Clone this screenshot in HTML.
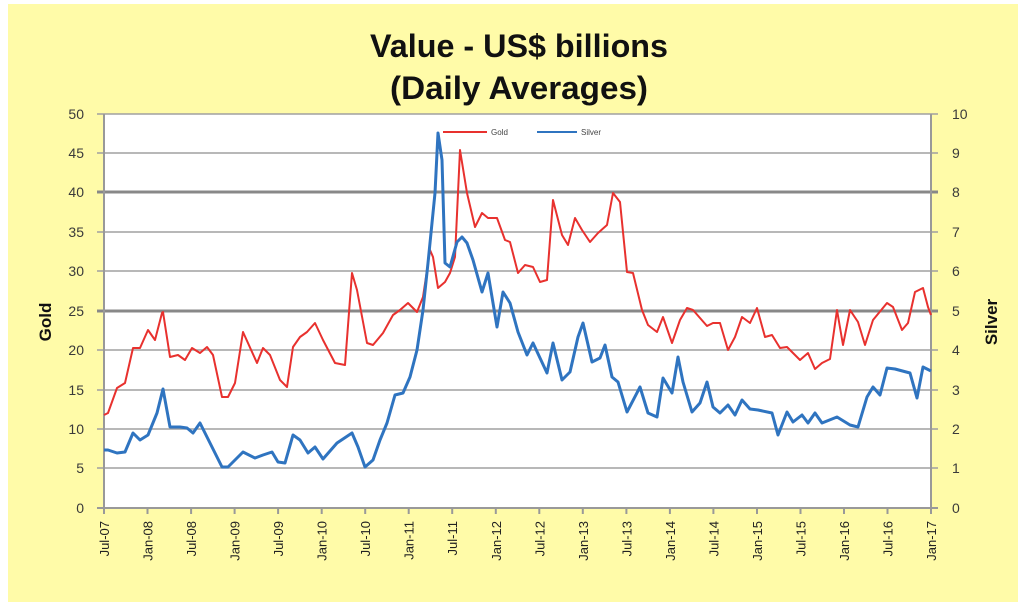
<!DOCTYPE html>
<html><head><meta charset="utf-8"><style>
html,body{margin:0;padding:0;background:#fff;}
svg{display:block;}
</style></head><body>
<svg width="1024" height="608" viewBox="0 0 1024 608" xmlns="http://www.w3.org/2000/svg" font-family="'Liberation Sans', sans-serif">
<rect x="0" y="0" width="1024" height="608" fill="#ffffff"/>
<rect x="8" y="4" width="1010" height="598" fill="#fffba8"/>
<rect x="104" y="114" width="827" height="394" fill="#ffffff"/>
<!-- title -->
<text x="519" y="57" text-anchor="middle" font-size="32" font-weight="bold" fill="#111" textLength="298" lengthAdjust="spacingAndGlyphs">Value - US$ billions</text>
<text x="519" y="99" text-anchor="middle" font-size="32" font-weight="bold" fill="#111" textLength="258" lengthAdjust="spacingAndGlyphs">(Daily Averages)</text>
<!-- gridlines -->
<g stroke="#a0a0a0" stroke-width="1.5">
<line x1="97" y1="114" x2="938" y2="114"/>
<line x1="97" y1="153" x2="938" y2="153"/>
<line x1="97" y1="232" x2="938" y2="232"/>
<line x1="97" y1="271" x2="938" y2="271"/>
<line x1="97" y1="350" x2="938" y2="350"/>
<line x1="97" y1="390" x2="938" y2="390"/>
<line x1="97" y1="429" x2="938" y2="429"/>
<line x1="97" y1="468" x2="938" y2="468"/>
</g>
<g stroke="#888" stroke-width="3">
<line x1="97" y1="192" x2="938" y2="192"/>
<line x1="97" y1="311" x2="938" y2="311"/>
</g>
<!-- axes -->
<g stroke="#999" stroke-width="2">
<line x1="104" y1="114" x2="104" y2="508"/>
<line x1="931" y1="114" x2="931" y2="508"/>
<line x1="97" y1="508" x2="938" y2="508"/>
</g>
<g stroke="#999" stroke-width="2">
<line x1="104.0" y1="508" x2="104.0" y2="514"/><line x1="147.5" y1="508" x2="147.5" y2="514"/><line x1="191.1" y1="508" x2="191.1" y2="514"/><line x1="234.6" y1="508" x2="234.6" y2="514"/><line x1="278.1" y1="508" x2="278.1" y2="514"/><line x1="321.7" y1="508" x2="321.7" y2="514"/><line x1="365.2" y1="508" x2="365.2" y2="514"/><line x1="408.7" y1="508" x2="408.7" y2="514"/><line x1="452.2" y1="508" x2="452.2" y2="514"/><line x1="495.8" y1="508" x2="495.8" y2="514"/><line x1="539.3" y1="508" x2="539.3" y2="514"/><line x1="582.8" y1="508" x2="582.8" y2="514"/><line x1="626.4" y1="508" x2="626.4" y2="514"/><line x1="669.9" y1="508" x2="669.9" y2="514"/><line x1="713.4" y1="508" x2="713.4" y2="514"/><line x1="757.0" y1="508" x2="757.0" y2="514"/><line x1="800.5" y1="508" x2="800.5" y2="514"/><line x1="844.0" y1="508" x2="844.0" y2="514"/><line x1="887.5" y1="508" x2="887.5" y2="514"/><line x1="931.0" y1="508" x2="931.0" y2="514"/>
</g>
<!-- left labels -->
<g font-size="14" fill="#3a3a3a" text-anchor="end">
<text x="84" y="119">50</text><text x="84" y="158">45</text><text x="84" y="197">40</text><text x="84" y="237">35</text><text x="84" y="276">30</text><text x="84" y="316">25</text><text x="84" y="355">20</text><text x="84" y="395">15</text><text x="84" y="434">10</text><text x="84" y="473">5</text><text x="84" y="513">0</text>
</g>
<g font-size="14" fill="#3a3a3a" text-anchor="start">
<text x="952" y="119">10</text><text x="952" y="158">9</text><text x="952" y="197">8</text><text x="952" y="237">7</text><text x="952" y="276">6</text><text x="952" y="316">5</text><text x="952" y="355">4</text><text x="952" y="395">3</text><text x="952" y="434">2</text><text x="952" y="473">1</text><text x="952" y="513">0</text>
</g>
<text transform="translate(51,322) rotate(-90)" text-anchor="middle" font-size="17" font-weight="bold" fill="#111">Gold</text>
<text transform="translate(997,322) rotate(-90)" text-anchor="middle" font-size="17" font-weight="bold" fill="#111">Silver</text>
<!-- x labels -->
<g font-size="13" fill="#222" text-anchor="end">
<text transform="translate(109,521) rotate(-90)">Jul-07</text>
<text transform="translate(152.5,521) rotate(-90)">Jan-08</text>
<text transform="translate(196.1,521) rotate(-90)">Jul-08</text>
<text transform="translate(239.6,521) rotate(-90)">Jan-09</text>
<text transform="translate(283.1,521) rotate(-90)">Jul-09</text>
<text transform="translate(326.7,521) rotate(-90)">Jan-10</text>
<text transform="translate(370.2,521) rotate(-90)">Jul-10</text>
<text transform="translate(413.7,521) rotate(-90)">Jan-11</text>
<text transform="translate(457.2,521) rotate(-90)">Jul-11</text>
<text transform="translate(500.8,521) rotate(-90)">Jan-12</text>
<text transform="translate(544.3,521) rotate(-90)">Jul-12</text>
<text transform="translate(587.8,521) rotate(-90)">Jan-13</text>
<text transform="translate(631.4,521) rotate(-90)">Jul-13</text>
<text transform="translate(674.9,521) rotate(-90)">Jan-14</text>
<text transform="translate(718.4,521) rotate(-90)">Jul-14</text>
<text transform="translate(762.0,521) rotate(-90)">Jan-15</text>
<text transform="translate(805.5,521) rotate(-90)">Jul-15</text>
<text transform="translate(849.0,521) rotate(-90)">Jan-16</text>
<text transform="translate(892.5,521) rotate(-90)">Jul-16</text>
<text transform="translate(936.0,521) rotate(-90)">Jan-17</text>
</g>
<!-- gold series -->
<polyline fill="none" stroke="#e8312e" stroke-width="2" stroke-linejoin="round" points="104,415 108,413 117,388 125,383 133,348 140,348 148,330 155,340 162,313 163,312 170,357 178,355 185,360 192,348 200,353 207,347 213,355 222,397 228,397 235,383 243,332 257,363 263,348 270,355 280,380 287,387 293,347 300,337 307,332 315,323 323,340 335,363 345,365 352,273 357,290 367,343 373,345 383,333 393,315 400,310 408,303 417,312 423,297 430,250 433,257 438,288 445,282 450,273 455,257 460,150 467,193 475,227 482,213 488,218 497,218 505,240 510,242 518,273 525,265 533,267 540,282 547,280 553,200 562,235 568,245 575,218 582,230 590,242 598,233 607,225 613,193 620,202 627,272 633,273 642,310 648,325 657,332 663,317 672,343 680,320 687,308 693,310 707,326 713,323 720,323 728,350 735,337 742,317 750,323 757,308 765,337 772,335 780,348 787,347 800,360 808,353 815,369 822,363 830,359 837,310 843,345 850,310 858,322 865,345 873,320 887,303 893,307 902,330 908,323 915,292 923,288 928,307 931,315"/>
<!-- silver series -->
<polyline fill="none" stroke="#2f74c0" stroke-width="3" stroke-linejoin="round" points="104,450 108,450 117,453 125,452 133,433 140,440 148,435 157,413 163,389 170,427 180,427 187,428 193,433 200,423 210,443 222,467 228,467 243,452 255,458 263,455 272,452 278,462 285,463 293,435 300,440 308,453 315,447 323,459 337,443 352,433 358,447 365,467 373,460 380,440 387,423 395,395 403,393 410,377 417,350 423,310 428,263 435,193 438,133 442,160 445,263 450,267 457,242 462,237 467,243 473,260 482,292 488,273 497,327 503,292 510,303 518,332 527,355 533,343 547,373 553,343 562,380 570,372 578,337 583,323 592,362 600,358 605,345 612,377 618,382 627,412 640,387 648,413 657,417 663,378 672,393 678,357 683,382 692,412 700,403 707,382 713,407 720,413 728,405 735,415 742,400 750,409 758,410 772,413 778,435 787,412 793,422 802,415 808,423 815,413 822,423 837,417 850,425 858,427 867,397 873,387 880,395 887,368 895,369 910,373 917,398 923,367 931,371"/>
<!-- legend -->
<line x1="443" y1="132" x2="487" y2="132" stroke="#e8312e" stroke-width="2"/>
<text x="491" y="135" font-size="8" fill="#444">Gold</text>
<line x1="537" y1="132" x2="577" y2="132" stroke="#2f74c0" stroke-width="2"/>
<text x="581" y="135" font-size="8" fill="#444">Silver</text>
</svg>
</body></html>
